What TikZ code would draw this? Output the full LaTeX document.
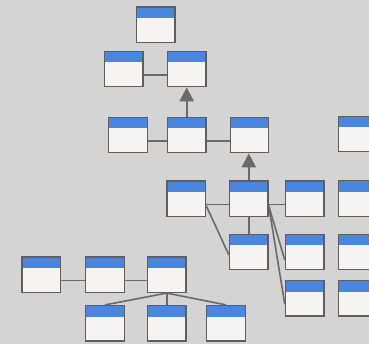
\documentclass[tikz,border=0pt]{standalone}
\usepackage{xcolor}
\usepackage{tikz}
\usetikzlibrary{arrows.meta}

\definecolor{fond}{HTML}{D4D4D4}
\definecolor{entete}{HTML}{4A85DE}
\definecolor{corps}{HTML}{F5F4F3}
\definecolor{bord}{HTML}{5E5E5E}
\definecolor{trait}{HTML}{6A6A6A}

\begin{document}
\begin{tikzpicture}[x=1pt,y=-1pt,
   boite/.style={rectangle,draw=bord,line width=1.3pt,fill=corps,inner sep=0pt,
      minimum width=38.5pt,minimum height=35.5pt,
      path picture={\fill[entete] (path picture bounding box.north west)
         rectangle ([yshift=-11pt]path picture bounding box.north east);}},
   lien/.style={draw=trait,line width=1.6pt},
   heritage/.style={draw=trait,line width=2.2pt,-{Triangle[length=14pt,width=14pt]}}]

  \fill[fond] (0,0) rectangle (369,344);
  \useasboundingbox (0,0) rectangle (369,344);
  \clip (0,0) rectangle (369,344);

  % boites
  \node[boite] (a) at (155.7,24.7) {};
  \node[boite] (b1) at (123.8,69) {};
  \node[boite] (b2) at (186.7,69) {};
  \node[boite] (c1) at (128,135) {};
  \node[boite] (c2) at (186.7,135) {};
  \node[boite] (c3) at (249.5,135) {};
  \node[boite] (c4) at (358,134) {};
  \node[boite] (d1) at (186.3,198.7) {};
  \node[boite] (d2) at (248.8,198.7) {};
  \node[boite] (d3) at (304.7,198.7) {};
  \node[boite] (d4) at (358,198.5) {};
  \node[boite] (e1) at (248.8,252) {};
  \node[boite] (e2) at (304.7,252) {};
  \node[boite] (e3) at (358,252) {};
  \node[boite] (f2) at (304.7,298.3) {};
  \node[boite] (f3) at (358,298.3) {};
  \node[boite] (g1) at (41.3,274.7) {};
  \node[boite] (g2) at (105,274.7) {};
  \node[boite] (g3) at (166.8,274.7) {};
  \node[boite] (h1) at (105,323.3) {};
  \node[boite] (h2) at (166.8,323.3) {};
  \node[boite] (h3) at (226,323.3) {};

  % liens
  \foreach \from/\to in {b1/b2,c1/c2,c2/c3,d1/d2,d2/d3,g1/g2,g2/g3}
    \draw[lien] ([yshift=-6pt]\from.east) -- ([yshift=-6pt]\to.west);
  \foreach \from/\to in {d2/e1,g3/h1,g3/h2,g3/h3}
    \draw[lien] (\from.south) -- (\to.north);
  \draw[lien] ([yshift=-7pt]d1.east) -- ([yshift=-3pt]e1.west);
  \draw[lien] ([yshift=-7pt]d2.east) -- ([yshift=-8pt]e2.west);
  \draw[lien] ([yshift=-7pt]d2.east) -- ([yshift=-6pt]f2.west);

  \draw[heritage] (c2.north) -- (c2.north |- b2.south);
  \draw[heritage] (d2.north) -- (d2.north |- c3.south);
\end{tikzpicture}
\end{document}
